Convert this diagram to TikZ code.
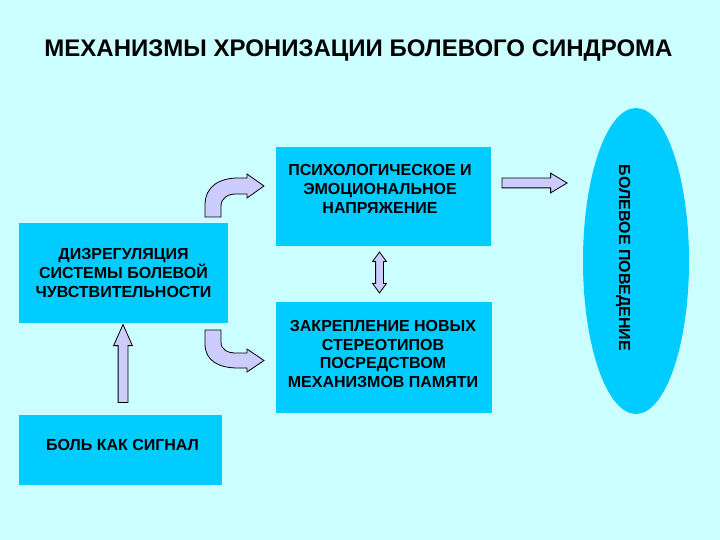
\documentclass[tikz,border=0pt]{standalone}
\usepackage{fontspec}
\setmainfont{Liberation Sans}
\usetikzlibrary{shapes.geometric,shapes.arrows}
\definecolor{bgc}{HTML}{CCFFFF}
\definecolor{boxc}{HTML}{00CCFF}
\definecolor{arrc}{HTML}{CCCCFF}
\tikzset{
  box/.style={rectangle, fill=boxc, draw=none, align=center, inner sep=0pt,
    font=\fontsize{16}{18.8}\selectfont\bfseries},
  blockarrow/.style={draw=black, fill=arrc, line width=0.8pt, line join=miter},
}
\begin{document}
\begin{tikzpicture}[x=1pt,y=-1pt]
\fill[bgc] (0,0) rectangle (720,540);
\useasboundingbox (0,0) rectangle (720,540);
\node[font=\fontsize{24}{26}\selectfont\bfseries] (title) at (358.5,50.5) {МЕХАНИЗМЫ ХРОНИЗАЦИИ БОЛЕВОГО СИНДРОМА};
% boxes
\node[box, minimum width=209, minimum height=100] (dys) at (123.5,273) {ДИЗРЕГУЛЯЦИЯ\\СИСТЕМЫ БОЛЕВОЙ\\ЧУВСТВИТЕЛЬНОСТИ};
\node[box, minimum width=203, minimum height=70] (pain) at (120.5,450) {};
\node[box] at (122.5,445) {БОЛЬ КАК СИГНАЛ};
\node[box, minimum width=215, minimum height=99] (psy) at (383.5,196.5) {};
\node[box] at (380,189) {ПСИХОЛОГИЧЕСКОЕ И\\ЭМОЦИОНАЛЬНОЕ\\НАПРЯЖЕНИЕ};
\node[box, minimum width=216, minimum height=111] (mem) at (384,357.5) {};
\node[box] at (383,354) {ЗАКРЕПЛЕНИЕ НОВЫХ\\СТЕРЕОТИПОВ\\ПОСРЕДСТВОМ\\МЕХАНИЗМОВ ПАМЯТИ};
\node[ellipse, fill=boxc, minimum width=106, minimum height=306, inner sep=0pt] (beh) at (636,261) {};
\node[rotate=-90, font=\fontsize{16}{18}\selectfont\bfseries] (behtxt) at (623,258) {БОЛЕВОЕ ПОВЕДЕНИЕ};
% straight block arrows
\node[blockarrow, single arrow, minimum height=65, minimum width=19, inner sep=0pt,
  text height=9, text depth=0, text width=0, single arrow head extend=5, single arrow tip angle=62] (a1) at (530.5,183) {};
\node[blockarrow, single arrow, rotate=90, minimum height=78, minimum width=18, inner sep=0pt,
  text height=9, text depth=0, text width=0, single arrow head extend=4.5, single arrow tip angle=48] (a2) at (123,369) {};
\node[blockarrow, double arrow, rotate=90, minimum height=41, minimum width=13, inner sep=0pt,
  text height=7, text depth=0, text width=0, double arrow head extend=3, double arrow tip angle=72] (a3) at (379.5,272.5) {};
% bent arrows
\draw[blockarrow] (205,217) -- (205,205) .. controls (205,186) and (220,178) .. (238,178) -- (247,178) -- (247,174) -- (264,186) -- (247,198) -- (247,194) -- (236,194) .. controls (228,194) and (221,198) .. (221,206) -- (221,217) -- cycle;
\draw[blockarrow] (205,330) -- (205,344) .. controls (205,361) and (219,368) .. (238,368) -- (247,368) -- (247,372) -- (264,360.5) -- (247,349) -- (247,353) -- (236,353) .. controls (228,353) and (221,350) .. (221,342) -- (221,330) -- cycle;
\end{tikzpicture}
\end{document}
